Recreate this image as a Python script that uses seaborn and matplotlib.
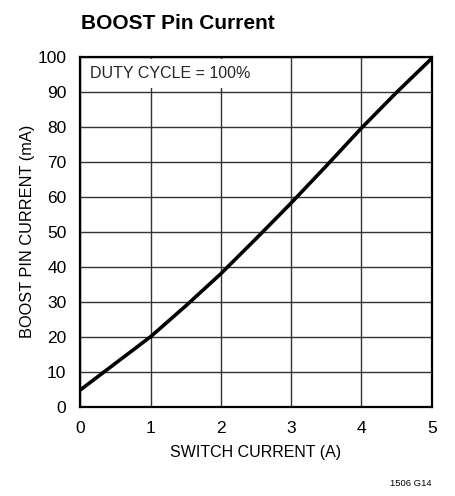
import matplotlib
matplotlib.use("Agg")
import matplotlib.pyplot as plt
import seaborn as sns
import pandas as pd

# values
switch_current = [0, 0.5, 1, 1.5, 2, 2.5, 3, 3.5, 4, 4.5, 5]
boost_current = [4.8, 12.4, 20, 28.8, 38, 48, 58.2, 68.8, 79.6, 89.8, 99.5]
x_ticks = [0, 1, 2, 3, 4, 5]
y_ticks = [0, 10, 20, 30, 40, 50, 60, 70, 80, 90, 100]

sns.set_theme(style="white")
plt.rcParams["font.family"] = ["Liberation Sans", "DejaVu Sans"]

df = pd.DataFrame({"switch": switch_current, "boost": boost_current})

fig = plt.figure(figsize=(4.55, 4.96), dpi=100)
ax = fig.add_axes([0.1765, 0.180, 0.7723, 0.7057])

sns.lineplot(data=df, x="switch", y="boost", color="black", linewidth=2.6, ax=ax)

ax.set_xlim(0, 5)
ax.set_ylim(0, 100)
ax.set_xticks(x_ticks)
ax.set_yticks(y_ticks)
ax.tick_params(axis="both", length=0, labelsize=12.5, colors="black")
ax.tick_params(axis="x", pad=10)
ax.tick_params(axis="y", pad=10)
ax.grid(True, color="#333333", linewidth=1.0)
for s in ax.spines.values():
    s.set_color("black")
    s.set_linewidth(1.6)

ax.set_xlabel("SWITCH CURRENT (A)", fontsize=11.5, color="black", labelpad=7)
ax.set_ylabel("BOOST PIN CURRENT (mA)", fontsize=11.8, color="black", labelpad=2)

ax.text(0.14, 95.2, "DUTY CYCLE = 100%", fontsize=11.5, va="center", ha="left",
        bbox=dict(facecolor="white", edgecolor="none", pad=5), zorder=3)

fig.text(0.178, 0.953, "BOOST Pin Current", fontsize=15, fontweight="bold",
         ha="left", va="center", color="black")
fig.text(0.949, 0.026, "1506 G14", fontsize=6.8, ha="right", va="center",
         color="black")

fig.savefig("out.png", dpi=100)
